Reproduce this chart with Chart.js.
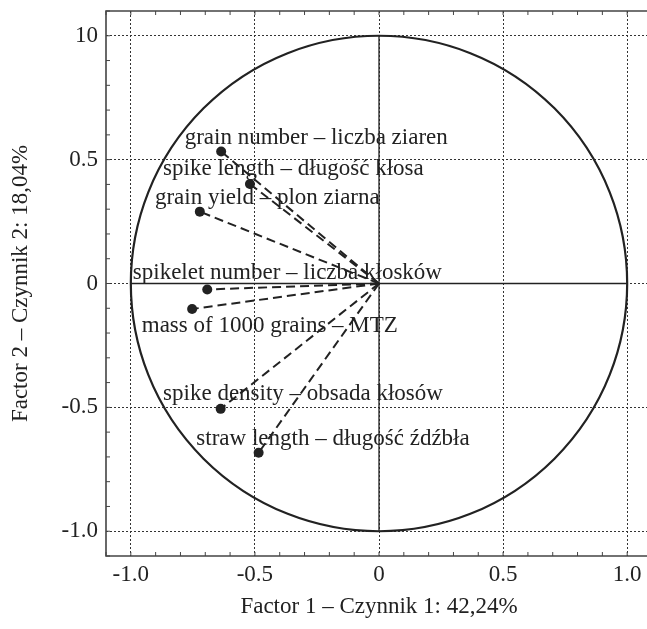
<!DOCTYPE html>
<html>
<head>
<meta charset="utf-8">
<script src="https://cdn.jsdelivr.net/npm/chart.js@4/dist/chart.umd.min.js"></script>
<style>
  html, body { margin: 0; padding: 0; background: #fff; overflow: hidden; }
  #wrap { width: 660px; height: 629px; }
</style>
</head>
<body>
<div id="wrap"><canvas id="chart"></canvas></div>
<script>
// Zmienne i ładunki czynnikowe
const variables = [
    'grain number – liczba ziaren',
    'spike length – długość kłosa',
    'grain yield – plon ziarna',
    'spikelet number – liczba kłosków',
    'mass of 1000 grains – MTZ',
    'spike density – obsada kłosów',
    'straw length – długość źdźbła'
];
const factor1 = [-0.636, -0.520, -0.722, -0.692, -0.753, -0.638, -0.485];
const factor2 = [0.533, 0.402, 0.290, -0.024, -0.103, -0.506, -0.683];

// Etykiety osi
const xTickLabels = { '-1': '-1.0', '-0.5': '-0.5', '0': '0', '0.5': '0.5', '1': '1.0' };
const yTickLabels = { '-1': '-1.0', '-0.5': '-0.5', '0': '0', '0.5': '0.5', '1': '10' };
const xTitle = 'Factor 1 – Czynnik 1: 42,24%';
const yTitle = 'Factor 2 – Czynnik 2: 18,04%';

// Położenie podpisów (lewy brzeg, linia bazowa) w jednostkach osi
const labelAnchors = [
    [-0.783, 0.565],
    [-0.870, 0.440],
    [-0.903, 0.320],
    [-0.992, 0.019],
    [-0.956, -0.195],
    [-0.870, -0.469],
    [-0.736, -0.650]
];

const FONT = '"Liberation Serif", "Times New Roman", serif';
const INK = '#222';

function keyOf(v) {
    const r = Math.round(v * 10) / 10;
    return String(r === 0 ? 0 : r);
}
function isMajor(v) {
    return Math.abs(v * 2 - Math.round(v * 2)) < 1e-6;
}

// Linie przerywane od środka do punktów
const datasets = variables.map((name, i) => ({
    label: name,
    data: [{ x: 0, y: 0 }, { x: factor1[i], y: factor2[i] }],
    borderColor: INK,
    borderWidth: 2,
    borderDash: [9, 5],
    pointRadius: [0, 5],
    pointBackgroundColor: INK,
    pointBorderWidth: 0,
    showLine: true,
    fill: false
}));

// Koło korelacji, osie zerowe, ramka i wewnętrzne znaczniki
const backdropPlugin = {
    id: 'backdrop',
    beforeDatasetsDraw(chart) {
        const { ctx, chartArea, scales: { x, y } } = chart;
        const cx = x.getPixelForValue(0), cy = y.getPixelForValue(0);
        const rx = x.getPixelForValue(1) - cx, ry = cy - y.getPixelForValue(1);
        ctx.save();
        ctx.strokeStyle = INK;
        ctx.lineWidth = 1.3;
        ctx.beginPath();
        ctx.moveTo(x.getPixelForValue(-1), cy);
        ctx.lineTo(x.getPixelForValue(1), cy);
        ctx.moveTo(cx, y.getPixelForValue(1));
        ctx.lineTo(cx, y.getPixelForValue(-1));
        ctx.stroke();

        ctx.lineWidth = 2.2;
        ctx.beginPath();
        ctx.ellipse(cx, cy, rx, ry, 0, 0, Math.PI * 2);
        ctx.stroke();

        // ramka: lewa, górna, dolna
        ctx.strokeStyle = '#444';
        ctx.lineWidth = 1.6;
        ctx.beginPath();
        ctx.moveTo(chartArea.right, chartArea.top);
        ctx.lineTo(chartArea.left, chartArea.top);
        ctx.lineTo(chartArea.left, chartArea.bottom);
        ctx.lineTo(chartArea.right, chartArea.bottom);
        ctx.stroke();

        // znaczniki do środka
        ctx.lineWidth = 1;
        ctx.beginPath();
        x.ticks.forEach(t => {
            const px = x.getPixelForValue(t.value);
            ctx.moveTo(px, chartArea.bottom);
            ctx.lineTo(px, chartArea.bottom - 4);
            ctx.moveTo(px, chartArea.top);
            ctx.lineTo(px, chartArea.top + 4);
        });
        y.ticks.forEach(t => {
            const py = y.getPixelForValue(t.value);
            ctx.moveTo(chartArea.left, py);
            ctx.lineTo(chartArea.left + 4, py);
        });
        ctx.stroke();
        ctx.restore();
    },
    afterDatasetsDraw(chart) {
        const { ctx, scales: { x, y } } = chart;
        ctx.save();
        ctx.fillStyle = INK;
        ctx.font = '23px ' + FONT;
        ctx.textAlign = 'left';
        ctx.textBaseline = 'alphabetic';
        variables.forEach((name, i) => {
            const [lx, ly] = labelAnchors[i];
            ctx.fillText(name, x.getPixelForValue(lx), y.getPixelForValue(ly));
        });
        ctx.restore();
    }
};

const gridColor = c => isMajor(c.tick.value) ? '#333' : 'rgba(0,0,0,0)';

new Chart(document.getElementById('chart'), {
    type: 'scatter',
    data: { datasets },
    options: {
        responsive: true,
        maintainAspectRatio: false,
        animation: false,
        layout: { padding: { top: 11, right: 8, left: 0, bottom: 0 } },
        plugins: { legend: { display: false }, tooltip: { enabled: false } },
        scales: {
            x: {
                type: 'linear',
                min: -1.1,
                max: 1.1,
                afterFit(scale) {
                    scale.height = 73;
                    scale.paddingLeft = 0;
                    scale.paddingRight = 0;
                },
                border: { display: false, dash: [2, 2] },
                grid: { color: gridColor, lineWidth: 1, drawTicks: false },
                ticks: {
                    stepSize: 0.1,
                    autoSkip: false,
                    maxRotation: 0,
                    padding: 5,
                    color: INK,
                    font: { family: FONT, size: 23 },
                    callback: v => isMajor(v) ? xTickLabels[keyOf(v)] : ''
                },
                title: {
                    display: true,
                    text: xTitle,
                    color: INK,
                    font: { family: FONT, size: 23 },
                    padding: { top: 0, bottom: 8 }
                }
            },
            y: {
                type: 'linear',
                min: -1.1,
                max: 1.1,
                afterFit(scale) {
                    scale.width = 106;
                    scale.paddingTop = 0;
                    scale.paddingBottom = 0;
                },
                border: { display: false, dash: [2, 2] },
                grid: { color: gridColor, lineWidth: 1, drawTicks: false },
                ticks: {
                    stepSize: 0.1,
                    autoSkip: false,
                    padding: 8,
                    color: INK,
                    font: { family: FONT, size: 23 },
                    callback: v => isMajor(v) ? yTickLabels[keyOf(v)] : ''
                },
                title: {
                    display: true,
                    text: yTitle,
                    color: INK,
                    font: { family: FONT, size: 23 },
                    padding: { top: 7, bottom: 0 }
                }
            }
        }
    },
    plugins: [backdropPlugin]
});
</script>
</body>
</html>
